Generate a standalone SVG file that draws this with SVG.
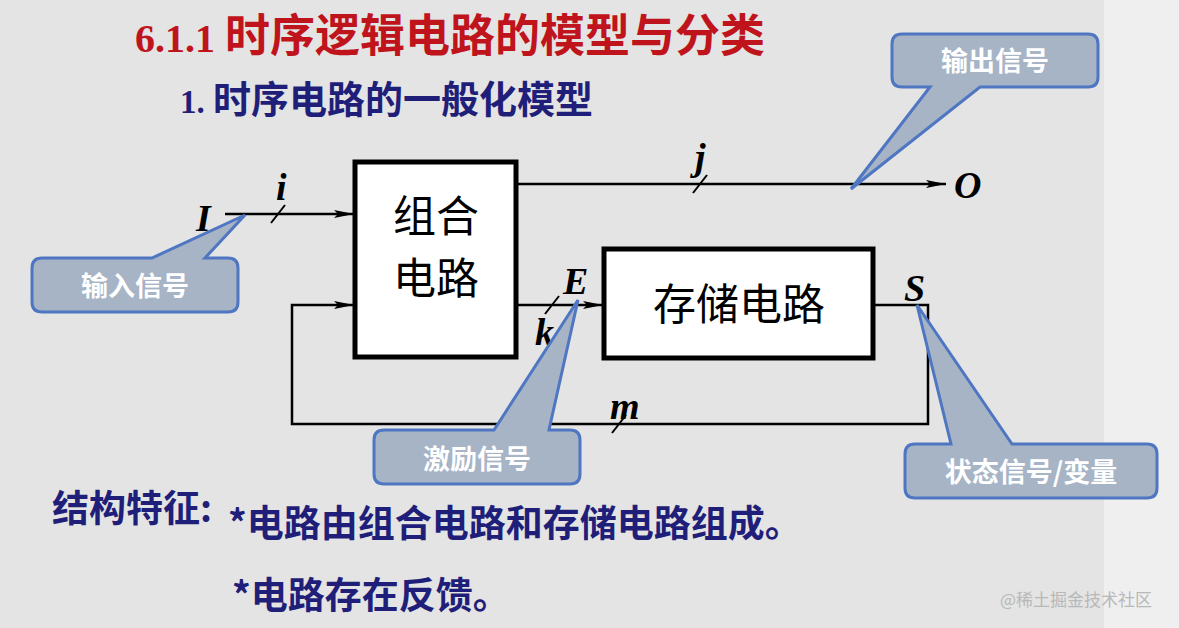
<svg xmlns="http://www.w3.org/2000/svg" width="1179" height="628" viewBox="0 0 1179 628">
<defs>
<marker id="ah" viewBox="0 0 20 8" refX="20" refY="4" markerWidth="20" markerHeight="8" markerUnits="userSpaceOnUse" orient="auto"><path d="M0,0 L20,4 L0,8 L4,4 Z" fill="#000"/></marker>
<style>
.box{fill:#fff;stroke:#000;stroke-width:5}
.ln{fill:none;stroke:#000;stroke-width:2.5}
.tk{stroke:#000;stroke-width:2}
.var{font-family:"Liberation Serif",serif;font-style:italic;font-weight:bold;font-size:38px;fill:#000}
.cn{font-family:"Noto Sans CJK SC",sans-serif;font-size:43px;fill:#000}
.call{fill:#a6b4c6;stroke:#4f76c2;stroke-width:3}
.ct{font-family:"Noto Sans CJK SC",sans-serif;font-weight:bold;font-size:27px;fill:#fff;text-anchor:middle}
.nv{font-family:"Noto Sans CJK SC",sans-serif;font-weight:bold;font-size:37px;fill:#1f1f7a}
</style>
</defs>
<rect width="1179" height="628" fill="#e4e4e4"/>
<rect x="1104" width="75" height="628" fill="#efefef"/>
<text x="135" y="52" font-family="'Liberation Serif','Noto Sans CJK SC',serif" font-weight="bold" font-size="40" fill="#c0141c">6.1.1 <tspan font-family="'Noto Sans CJK SC',sans-serif" font-size="45">时序逻辑电路的模型与分类</tspan></text>
<text x="180" y="113" font-family="'Liberation Serif','Noto Sans CJK SC',serif" font-weight="bold" font-size="33" fill="#1f1f7a">1. <tspan font-family="'Noto Sans CJK SC',sans-serif" font-size="38">时序电路的一般化模型</tspan></text>
<g id="connectors">
<path class="ln" d="M225,214 H354" marker-end="url(#ah)"/>
<path class="ln" d="M516,184 H946" marker-end="url(#ah)"/>
<path class="ln" d="M516,305 H603" marker-end="url(#ah)"/>
<path class="ln" d="M873,305 H928 V424 H292 V305 H354" marker-end="url(#ah)"/>
<line class="tk" x1="271" y1="223" x2="285" y2="205"/>
<line class="tk" x1="693" y1="193" x2="707" y2="175"/>
<line class="tk" x1="545" y1="314" x2="559" y2="296"/>
<line class="tk" x1="612" y1="433" x2="626" y2="415"/>
</g>
<g id="comb"><rect class="box" x="355" y="162" width="161" height="195"/><text class="cn" x="436" y="232" text-anchor="middle">组合</text><text class="cn" x="436" y="294" text-anchor="middle">电路</text></g>
<g id="store"><rect class="box" x="604" y="249" width="269" height="109"/><text class="cn" x="739" y="320" text-anchor="middle">存储电路</text></g>
<g id="vars">
<text class="var" x="196" y="231">I</text>
<text class="var" x="276" y="200">i</text>
<text class="var" x="695" y="170">j</text>
<text class="var" x="954" y="198">O</text>
<text class="var" x="563" y="294">E</text>
<text class="var" x="535" y="345">k</text>
<text class="var" x="904" y="301">S</text>
<text class="var" x="610" y="419">m</text>
</g>
<g id="c1"><path class="call" d="M42,258 H152 L245,215 L205,258 H228 Q238,258 238,268 V302 Q238,312 228,312 H42 Q32,312 32,302 V268 Q32,258 42,258 Z"/><text class="ct" x="135" y="296">输入信号</text></g>
<g id="c2"><path class="call" d="M902,34 H1088 Q1098,34 1098,44 V77 Q1098,87 1088,87 H980 L851,189 L930,87 H902 Q892,87 892,77 V44 Q892,34 902,34 Z"/><text class="ct" x="995" y="71">输出信号</text></g>
<g id="c3"><path class="call" d="M384,430 H494 L578,300 L549,430 H570 Q580,430 580,440 V474 Q580,484 570,484 H384 Q374,484 374,474 V440 Q374,430 384,430 Z"/><text class="ct" x="477" y="469">激励信号</text></g>
<g id="c4"><path class="call" d="M915,444 H951 L917,305 L1012,444 H1147 Q1157,444 1157,454 V488 Q1157,498 1147,498 H915 Q905,498 905,488 V454 Q905,444 915,444 Z"/><text class="ct" x="1031" y="482">状态信号/变量</text></g>
<text class="nv" x="52" y="522">结构特征:</text>
<text class="nv" x="228" y="537">*电路由组合电路和存储电路组成。</text>
<text class="nv" x="232" y="609">*电路存在反馈。</text>
<text x="1000" y="606" font-family="'Noto Sans CJK SC',sans-serif" font-size="17" fill="#b8b8b8">@稀土掘金技术社区</text>
</svg>
